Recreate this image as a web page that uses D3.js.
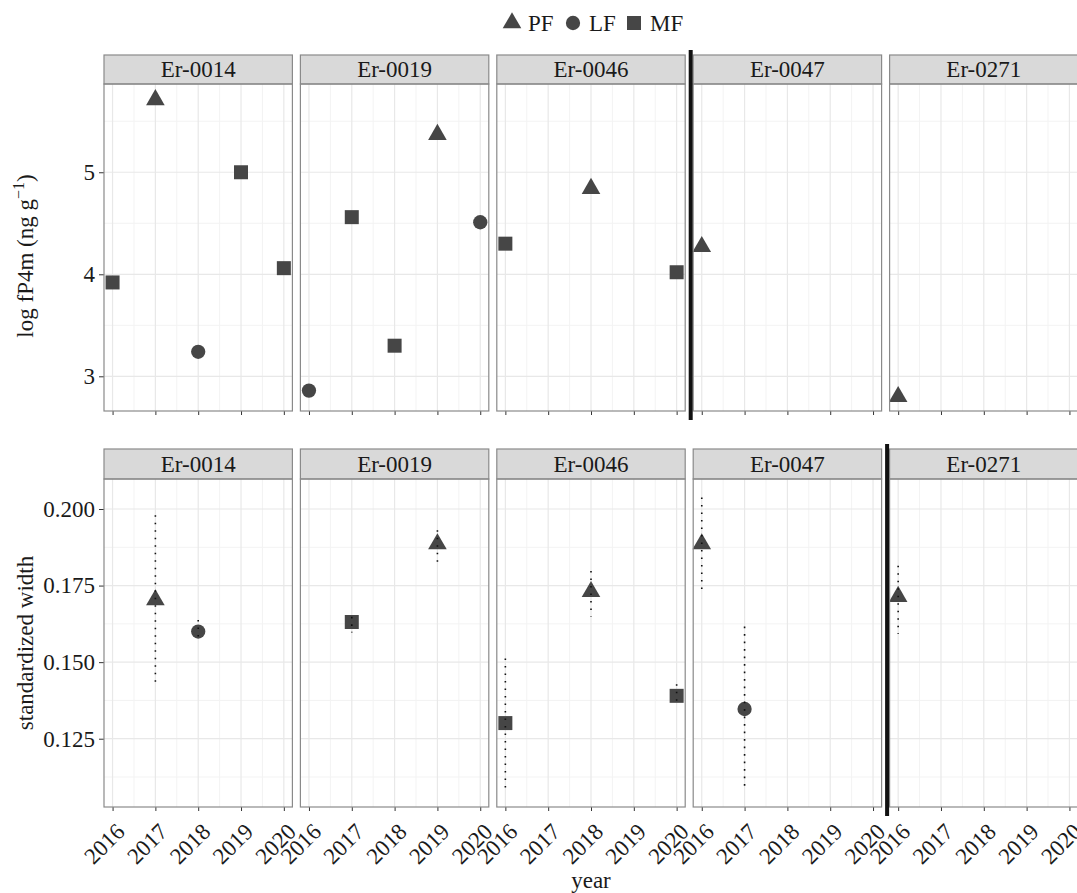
<!DOCTYPE html>
<html>
  <body>
    <style>
      body {
        margin: 0;
        background: #fff;
      }
      svg {
        display: block;
        font-family: 'Liberation Serif', 'DejaVu Serif', serif;
      }
    </style>
    <div class="chart"></div>
    <script src="https://cdn.jsdelivr.net/npm/d3@7"></script>
    <script type="text/javascript">
      const sites = ['Er-0014', 'Er-0019', 'Er-0046', 'Er-0047', 'Er-0271'];
      const years = [2016, 2017, 2018, 2019, 2020];
      const forms = ['PF', 'LF', 'MF'];

      // top row: log fP4m
      const fp4mSite = ['Er-0014', 'Er-0014', 'Er-0014', 'Er-0014', 'Er-0014',
        'Er-0019', 'Er-0019', 'Er-0019', 'Er-0019', 'Er-0019',
        'Er-0046', 'Er-0046', 'Er-0046', 'Er-0047', 'Er-0271'];
      const fp4mYear = [2016, 2017, 2018, 2019, 2020,
        2016, 2017, 2018, 2019, 2020,
        2016, 2018, 2020, 2016, 2016];
      const fp4mForm = ['MF', 'PF', 'LF', 'MF', 'MF',
        'LF', 'MF', 'MF', 'PF', 'LF',
        'MF', 'PF', 'MF', 'PF', 'PF'];
      const fp4mValue = [3.92, 5.71, 3.24, 5.0, 4.06,
        2.86, 4.56, 3.30, 5.37, 4.51,
        4.30, 4.84, 4.02, 4.27, 2.80];
      const fp4mTicks = [3, 4, 5];
      const fp4mLimits = [2.66, 5.865];

      // bottom row: standardized width (mean with low / high)
      const widthSite = ['Er-0014', 'Er-0014', 'Er-0019', 'Er-0019', 'Er-0046',
        'Er-0046', 'Er-0046', 'Er-0047', 'Er-0047', 'Er-0271'];
      const widthYear = [2017, 2018, 2017, 2019, 2016, 2018, 2020, 2016, 2017, 2016];
      const widthForm = ['PF', 'LF', 'MF', 'PF', 'MF', 'PF', 'MF', 'PF', 'LF', 'PF'];
      const widthValue = [0.1703, 0.16, 0.1631, 0.1886, 0.1301, 0.173, 0.139, 0.1886, 0.1347, 0.1714];
      const widthLow = [0.1417, 0.1565, 0.1597, 0.1824, 0.1085, 0.1649, 0.1355, 0.172, 0.1079, 0.1592];
      const widthHigh = [0.198, 0.1638, 0.1648, 0.1931, 0.1512, 0.1798, 0.1428, 0.2038, 0.1616, 0.1815];
      const widthTicks = [0.125, 0.15, 0.175, 0.2];
      const widthLimits = [0.1027, 0.2098];

      // thick separator drawn after this panel
      const fp4mBreak = 'Er-0046';
      const widthBreak = 'Er-0047';

      const W = 1077;
      const H = 893;
      const ink = '#464646';
      const frame = '#8a8a8a';
      const fs = 23;

      const svg = d3
        .select('.chart')
        .append('svg')
        .attr('width', W)
        .attr('height', H);

      const panelX = d3.scaleBand().domain(sites).range([104, 1078]).paddingInner(0.0407);
      const pw = panelX.bandwidth();

      const shapeType = d3.scaleOrdinal().domain(forms).range([d3.symbolTriangle, d3.symbolCircle, d3.symbolSquare]);
      const shapeSize = d3.scaleOrdinal().domain(forms).range([150, 160, 196]);
      const symbol = (f) => d3.symbol().type(shapeType(f)).size(shapeSize(f))();

      const rows = [
        {
          stripTop: 55, top: 84, bottom: 411,
          limits: fp4mLimits, ticks: fp4mTicks, fmt: d3.format('d'), labels: false,
          brk: fp4mBreak,
          data: fp4mValue.map((v, i) => ({ site: fp4mSite[i], year: fp4mYear[i], form: fp4mForm[i], value: v })),
        },
        {
          stripTop: 449, top: 479, bottom: 807,
          limits: widthLimits, ticks: widthTicks, fmt: d3.format('.3f'), labels: true,
          brk: widthBreak,
          data: widthValue.map((v, i) => ({
            site: widthSite[i], year: widthYear[i], form: widthForm[i], value: v,
            low: widthLow[i], high: widthHigh[i],
          })),
        },
      ];

      function minorOf(ticks, limits) {
        const step = ticks[1] - ticks[0];
        const out = [];
        for (let i = -1; i < ticks.length; i++) {
          const m = ticks[0] + step * (i + 0.5);
          if (m > limits[0] && m < limits[1]) out.push(m);
        }
        return out;
      }

      rows.forEach((row) => {
        const y = d3.scaleLinear().domain(row.limits).range([row.bottom, row.top]);
        const yMinor = minorOf(row.ticks, row.limits);

        sites.forEach((site, si) => {
          const x0 = panelX(site);
          const x = d3.scaleLinear().domain([2015.8, 2020.2]).range([x0, x0 + pw]);
          const xMinor = years.slice(1).map((yr) => yr - 0.5);
          const g = svg.append('g');

          // grid
          g.selectAll('.vminor').data(xMinor).enter().append('line')
            .attr('x1', (d) => x(d)).attr('x2', (d) => x(d))
            .attr('y1', row.top).attr('y2', row.bottom)
            .attr('stroke', '#f3f3f3').attr('stroke-width', 1);
          g.selectAll('.hminor').data(yMinor).enter().append('line')
            .attr('x1', x0).attr('x2', x0 + pw)
            .attr('y1', (d) => y(d)).attr('y2', (d) => y(d))
            .attr('stroke', '#f3f3f3').attr('stroke-width', 1);
          g.selectAll('.vmajor').data(years).enter().append('line')
            .attr('x1', (d) => x(d)).attr('x2', (d) => x(d))
            .attr('y1', row.top).attr('y2', row.bottom)
            .attr('stroke', '#e8e8e8').attr('stroke-width', 1.2);
          g.selectAll('.hmajor').data(row.ticks).enter().append('line')
            .attr('x1', x0).attr('x2', x0 + pw)
            .attr('y1', (d) => y(d)).attr('y2', (d) => y(d))
            .attr('stroke', '#e8e8e8').attr('stroke-width', 1.2);

          // strip
          g.append('rect')
            .attr('x', x0).attr('y', row.stripTop)
            .attr('width', pw).attr('height', row.top - row.stripTop)
            .attr('fill', '#d9d9d9').attr('stroke', frame).attr('stroke-width', 1.2);
          g.append('text')
            .attr('x', x0 + pw / 2).attr('y', row.top - 7)
            .attr('text-anchor', 'middle')
            .attr('font-size', fs).attr('fill', '#1a1a1a')
            .text(site);

          // x axis
          const ax = g.append('g')
            .attr('transform', `translate(0, ${row.bottom})`)
            .call(d3.axisBottom(x).tickValues(years).tickSize(4).tickFormat(d3.format('d')));
          ax.attr('font-family', null).attr('font-size', null);
          ax.select('.domain').remove();
          ax.selectAll('line').attr('stroke', '#333');
          if (row.labels) {
            ax.selectAll('text')
              .attr('font-size', fs)
              .attr('fill', '#1a1a1a')
              .attr('text-anchor', 'end')
              .attr('x', 0).attr('y', 0).attr('dy', '0.68em')
              .attr('transform', 'translate(2, 15) rotate(-45)');
          } else {
            ax.selectAll('text').remove();
          }

          // y axis on the first panel only
          if (si === 0) {
            const ay = g.append('g')
              .attr('transform', `translate(${x0}, 0)`)
              .call(d3.axisLeft(y).tickValues(row.ticks).tickSize(5).tickPadding(4).tickFormat(row.fmt));
            ay.attr('font-family', null).attr('font-size', null);
            ay.select('.domain').remove();
            ay.selectAll('line').attr('stroke', '#333');
            ay.selectAll('text').attr('font-size', fs).attr('fill', '#1a1a1a');
          }

          // points
          const pts = row.data.filter((d) => d.site === site);
          g.selectAll('.pt').data(pts).enter().append('path')
            .attr('d', (d) => symbol(d.form))
            .attr('transform', (d) => `translate(${x(d.year)}, ${y(d.value)})`)
            .attr('fill', ink);

          // error bars (dotted), drawn over the markers
          g.selectAll('.err').data(pts.filter((d) => d.low !== undefined)).enter().append('line')
            .attr('x1', (d) => x(d.year)).attr('x2', (d) => x(d.year))
            .attr('y1', (d) => y(d.high)).attr('y2', (d) => y(d.low))
            .attr('stroke', '#111').attr('stroke-width', 1.6)
            .attr('stroke-dasharray', '1.6 5.9');

          // panel border
          g.append('rect')
            .attr('x', x0).attr('y', row.top)
            .attr('width', pw).attr('height', row.bottom - row.top)
            .attr('fill', 'none').attr('stroke', frame).attr('stroke-width', 1.2);
        });

        // thick separator
        const bx = panelX(row.brk) + pw + (panelX.step() - pw) / 2 + 1.5;
        svg.append('line')
          .attr('x1', bx).attr('x2', bx)
          .attr('y1', row.stripTop - 5).attr('y2', row.bottom + 9)
          .attr('stroke', '#111').attr('stroke-width', 4);
      });

      // axis titles
      const t1 = svg.append('text')
        .attr('transform', 'translate(33, 256) rotate(-90)')
        .attr('text-anchor', 'middle')
        .attr('font-size', fs).attr('fill', '#1a1a1a');
      t1.append('tspan').text('log fP4m (ng g');
      t1.append('tspan').attr('font-size', 16).attr('dy', -9).text('\u22121');
      t1.append('tspan').attr('dy', 9).text(')');

      svg.append('text')
        .attr('transform', 'translate(33, 643) rotate(-90)')
        .attr('text-anchor', 'middle')
        .attr('font-size', fs).attr('fill', '#1a1a1a')
        .text('standardized width');

      svg.append('text')
        .attr('x', 591).attr('y', 888)
        .attr('text-anchor', 'middle')
        .attr('font-size', fs).attr('fill', '#1a1a1a')
        .text('year');

      // legend
      const legend = svg.selectAll('.legend').data(forms).enter().append('g')
        .attr('transform', (d, i) => `translate(${512 + i * 61}, 23)`);
      legend.append('path')
        .attr('d', (d) => symbol(d))
        .attr('fill', ink);
      legend.append('text')
        .attr('x', 16).attr('y', 8)
        .attr('font-size', fs).attr('fill', '#1a1a1a')
        .text((d) => d);
    </script>
  </body>
</html>
